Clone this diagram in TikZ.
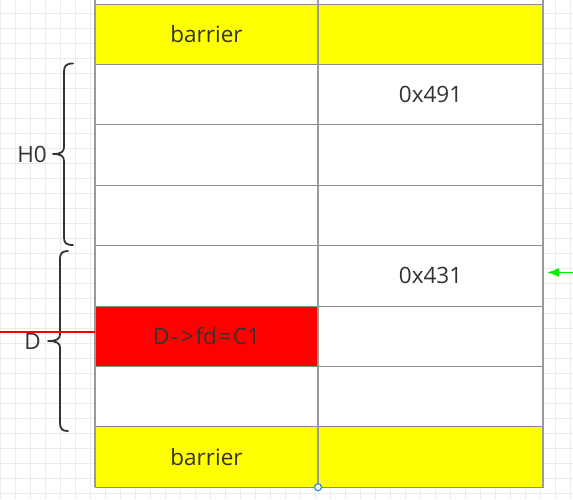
\documentclass[tikz,border=0pt]{standalone}
\usepackage{fontspec}
\setmainfont{Open Sans}
\usetikzlibrary{arrows.meta}
\definecolor{txt}{HTML}{333333}
\definecolor{gridc}{HTML}{EBEBEB}
\definecolor{cellline}{HTML}{8C8C8C}
\definecolor{vline}{HTML}{9A9A9A}
\definecolor{ylw}{HTML}{FFFF00}
\definecolor{redc}{HTML}{FF0000}
\definecolor{grn}{HTML}{00EE00}
\definecolor{bluec}{HTML}{2A8CF0}
\tikzset{
  cell/.style={draw=cellline, line width=1pt, fill=white, minimum width=223pt, minimum height=60.4pt, inner sep=0pt, outer sep=0pt, anchor=north west, text=txt, font=\fontsize{22.5}{26}\selectfont},
  yellowcell/.style={cell, fill=ylw},
  redcell/.style={cell, fill=redc},
  bracestyle/.style={draw=txt, line width=1.8pt, line cap=round, line join=round},
  lbl/.style={text=txt, font=\fontsize{22.5}{26}\selectfont, inner sep=0pt},
  redconn/.style={draw=redc, line width=2pt},
  greenconn/.style={draw=grn, line width=1.6pt, -{Latex[length=12pt,width=9pt]}},
}
\begin{document}
\begin{tikzpicture}[x=1pt,y=-1pt]
\useasboundingbox (0,0) rectangle (573,499);
\fill[white] (0,0) rectangle (573,499);
% background grid
\foreach \gx in {0,15,...,570} \draw[gridc, line width=0.8pt] (\gx,0) -- (\gx,499);
\foreach \gy in {13,28,...,499} \draw[gridc, line width=0.8pt] (0,\gy) -- (573,\gy);
% left column
\node[cell] (l0) at (95,-56.4) {};
\node[yellowcell] (l1) at (95,4) {barrier};
\node[cell] (l2) at (95,64.4) {};
\node[cell] (l3) at (95,124.8) {};
\node[cell] (l4) at (95,185.2) {};
\node[cell] (l5) at (95,245.6) {};
\node[redcell] (l6) at (95,306) {D\kern1.5pt-\kern3pt>\kern1.5pt fd\kern1.5pt=\kern1.5pt C1};
\node[cell] (l7) at (95,366.4) {};
\node[yellowcell] (l8) at (95,426.8) {barrier};
% right column
\node[cell, minimum width=225pt] (r0) at (318,-56.4) {};
\node[yellowcell, minimum width=225pt] (r1) at (318,4) {};
\node[cell, minimum width=225pt] (r2) at (318,64.4) {0x491};
\node[cell, minimum width=225pt] (r3) at (318,124.8) {};
\node[cell, minimum width=225pt] (r4) at (318,185.2) {};
\node[cell, minimum width=225pt] (r5) at (318,245.6) {0x431};
\node[cell, minimum width=225pt] (r6) at (318,306) {};
\node[cell, minimum width=225pt] (r7) at (318,366.4) {};
\node[yellowcell, minimum width=225pt] (r8) at (318,426.8) {};
% vertical lines
\draw[vline, line width=1.3pt] (l0.north west) -- (l8.south west);
\draw[vline, line width=1.3pt] (r0.north east) -- (r8.south east);
\draw[vline, line width=1.3pt] (l0.north east) -- (l8.south east);
\coordinate (bot) at (l8.south east);
\draw[bluec, line width=1.2pt, fill=white] (bot) circle (3.5pt);
% braces
\draw[bracestyle] (73,63.5) .. controls (66,63.5) and (64,66) .. (64,72) -- (64,147)
  .. controls (64,152) and (61,154) .. (53,154)
  .. controls (61,154) and (64,156) .. (64,161) -- (64,237)
  .. controls (64,243) and (66,245) .. (73,245);
\node[lbl] (h0) at (32,154) {H0};
\draw[bracestyle] (68,251) .. controls (62,251) and (60,253.5) .. (60,259) -- (60,334)
  .. controls (60,339) and (57,341) .. (48,341)
  .. controls (57,341) and (60,343) .. (60,348) -- (60,423)
  .. controls (60,428.5) and (62,431) .. (68,431);
\node[lbl] (dl) at (32.5,341) {D};
% red line
\coordinate (redstart) at (0,331.7);
\coordinate (redend) at (95,331.7);
\draw[redconn] (redstart) -- (redend);
% green arrow
\coordinate (gstart) at (573,272.5);
\coordinate (gend) at (547,272.5);
\draw[greenconn] (gstart) -- (gend);
\end{tikzpicture}
\end{document}
